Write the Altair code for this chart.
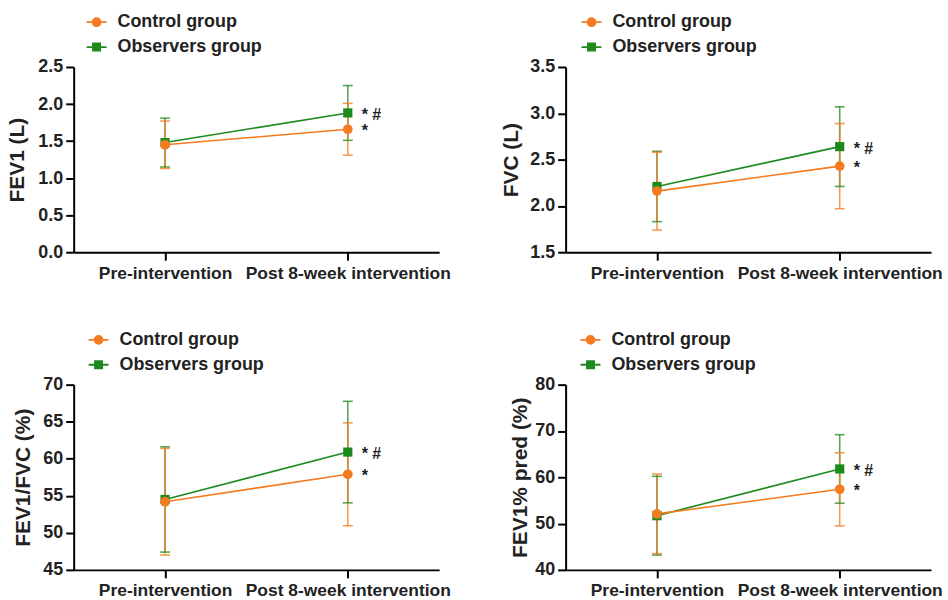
import altair as alt
import pandas as pd

# ---------------- data ----------------
times = ["Pre-intervention", "Post 8-week intervention"]
groups = ["Control group", "Observers group"]

fev1_ctrl = [1.45, 1.66]
fev1_ctrl_sd = [0.32, 0.35]
fev1_obs = [1.48, 1.88]
fev1_obs_sd = [0.33, 0.37]

fvc_ctrl = [2.16, 2.43]
fvc_ctrl_sd = [0.42, 0.46]
fvc_obs = [2.21, 2.64]
fvc_obs_sd = [0.38, 0.43]

ratio_ctrl = [54.2, 57.9]
ratio_ctrl_sd = [7.2, 6.95]
ratio_obs = [54.5, 60.9]
ratio_obs_sd = [7.1, 6.85]

pred_ctrl = [52.1, 57.4]
pred_ctrl_sd = [8.6, 7.9]
pred_obs = [51.7, 61.8]
pred_obs_sd = [8.5, 7.4]

ann_ctrl = ["", "*"]
ann_obs = ["", "* #"]

ORANGE = "#F47B20"
GREEN = "#1E8A1E"
FONT = "Liberation Sans"

CIRCLE_PATH = "M-1,0H1M-0.4,0A0.4,0.4,0,1,1,0.4,0A0.4,0.4,0,1,1,-0.4,0Z"
SQUARE_PATH = "M-1,0H1M-0.36,-0.36H0.36V0.36H-0.36Z"


def make_df(c, csd, o, osd):
    rows = []
    for i, t in enumerate(times):
        rows.append(dict(time=t, group=groups[1], mean=o[i], lo=o[i] - osd[i], hi=o[i] + osd[i], ann=ann_obs[i]))
    for i, t in enumerate(times):
        rows.append(dict(time=t, group=groups[0], mean=c[i], lo=c[i] - csd[i], hi=c[i] + csd[i], ann=ann_ctrl[i]))
    return pd.DataFrame(rows)


def panel(df, title, dom, step, fmt, title_x, legend_x):
    ticks = []
    v = dom[0]
    while v <= dom[1] + 1e-9:
        ticks.append(round(v, 4))
        v += step
    x = alt.X("time:N", sort=times, title=None,
              scale=alt.Scale(type="point", padding=0.5),
              axis=alt.Axis(labelAngle=0, labelFont=FONT, labelFontSize=17.5, labelFontWeight="bold",
                            labelColor="#222", tickSize=8, tickWidth=2, tickColor="black",
                            domainWidth=2, domainColor="black", labelPadding=4, grid=False,
                            labelLimit=0, labelOverlap=False))
    yscale = alt.Scale(domain=dom, nice=False, zero=False)
    yaxis = alt.Axis(values=ticks, format=fmt, labelFont=FONT, labelFontSize=18, labelFontWeight="bold",
                     labelColor="#222", tickSize=8, tickWidth=2, tickColor="black",
                     domainWidth=2, domainColor="black", labelPadding=3, grid=False,
                     labelOverlap=False, labelFlush=False,
                     titleFont=FONT, titleFontSize=21, titleFontWeight="bold", titleColor="#222",
                     titleX=title_x)

    def Y(field):
        return alt.Y(field, title=title, scale=yscale, axis=yaxis)

    # colour scale for drawn marks (domain from data, legend off)
    color = alt.Color("group:N", scale=alt.Scale(range=[ORANGE, GREEN]), legend=None)
    base = alt.Chart(df).encode(x=x)

    err = base.mark_rule(strokeWidth=1.6, opacity=0.75).encode(y=Y("lo:Q"), y2="hi:Q", color=color)
    cap_lo = base.mark_tick(thickness=1.6, size=10, opacity=0.75).encode(y=Y("lo:Q"), color=color)
    cap_hi = base.mark_tick(thickness=1.6, size=10, opacity=0.75).encode(y=Y("hi:Q"), color=color)
    line = base.mark_line(strokeWidth=1.6).encode(y=Y("mean:Q"), color=color, detail="group:N")
    sq = base.transform_filter(alt.datum.group == groups[1]).mark_point(
        shape="square", filled=True, size=85, opacity=1).encode(y=Y("mean:Q"), color=color)
    ci = base.transform_filter(alt.datum.group == groups[0]).mark_point(
        shape="circle", filled=True, size=95, opacity=1).encode(y=Y("mean:Q"), color=color)
    txt = base.transform_filter(alt.datum.ann != "").mark_text(
        align="left", baseline="middle", dx=14, dy=2, font=FONT, fontSize=16, fontWeight="bold", color="#222"
    ).encode(y=Y("mean:Q"), text="ann:N")

    leg = alt.Legend(title=None, direction="vertical", orient="none", legendX=legend_x, legendY=-56,
                     labelFont=FONT, labelFontSize=18, labelFontWeight="bold", labelColor="#222",
                     symbolSize=400, symbolStrokeWidth=1.8, symbolOpacity=1, labelOffset=10,
                     rowPadding=5, labelLimit=400, padding=0)
    legend_layer = base.mark_point(opacity=0, filled=True, size=1).encode(
        y=Y("mean:Q"),
        fill=alt.Fill("group:N", scale=alt.Scale(domain=groups, range=[ORANGE, GREEN]), legend=leg),
        stroke=alt.Stroke("group:N", scale=alt.Scale(domain=groups, range=[ORANGE, GREEN]), legend=leg),
        shape=alt.Shape("group:N", scale=alt.Scale(domain=groups, range=[CIRCLE_PATH, SQUARE_PATH]), legend=leg),
    )

    return alt.layer(err, cap_lo, cap_hi, line, sq, ci, txt, legend_layer).properties(width=367, height=186)


p1 = panel(make_df(fev1_ctrl, fev1_ctrl_sd, fev1_obs, fev1_obs_sd), "FEV1 (L)", [0, 2.5], 0.5, ".1f", -46, 12)
p2 = panel(make_df(fvc_ctrl, fvc_ctrl_sd, fvc_obs, fvc_obs_sd), "FVC (L)", [1.5, 3.5], 0.5, ".1f", -44, 15)
p3 = panel(make_df(ratio_ctrl, ratio_ctrl_sd, ratio_obs, ratio_obs_sd), "FEV1/FVC (%)", [45, 70], 5, "d", -40, 14)
p4 = panel(make_df(pred_ctrl, pred_ctrl_sd, pred_obs, pred_obs_sd), "FEV1% pred (%)", [40, 80], 10, "d", -35, 14)

chart = alt.concat(p1, p2, p3, p4, columns=2, spacing={"row": 133, "column": 127}, bounds="flush").resolve_scale(
    color="independent", fill="independent", stroke="independent", shape="independent"
).resolve_legend(
    color="independent", fill="independent", stroke="independent", shape="independent"
).properties(
    padding={"left": 7, "top": 10, "right": 5, "bottom": 5},
    background="white",
).configure_view(stroke=None)

chart.save("out.html", embed_options={"renderer": "svg", "actions": False})
